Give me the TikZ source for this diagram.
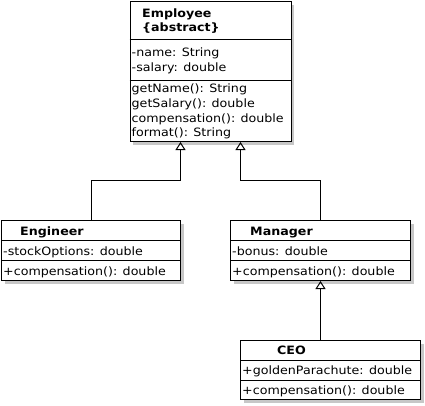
\documentclass[tikz,border=0pt]{standalone}
\usepackage{fontspec}
\setmainfont{DejaVu Sans}[FakeStretch=1.1]
\usetikzlibrary{arrows.meta, shadows, positioning}

\begin{document}
\begin{tikzpicture}[x=1pt, y=-1pt,
    clase/.style={draw, fill=white, anchor=north west, inner sep=0pt, line width=1pt,
      drop shadow={shadow xshift=3pt, shadow yshift=-3pt, fill=black!22, opacity=1}},
    texto/.style={anchor=base west, inner sep=0pt, font=\fontsize{11.5}{14}\selectfont},
    titulo/.style={texto, font=\fontsize{11.5}{14}\selectfont\bfseries},
    herencia/.style={-{Triangle[open, length=8pt, width=10pt]}, line width=1pt}]
  \useasboundingbox (0,0) rectangle (425,405);

  % Clases
  \node[clase, minimum width=161pt, minimum height=140pt] (employee) at (129.5,1) {};
  \node[clase, minimum width=179pt, minimum height=60pt] (engineer) at (1,220) {};
  \node[clase, minimum width=180pt, minimum height=60pt] (manager) at (230,220) {};
  \node[clase, minimum width=180pt, minimum height=59pt] (ceo) at (240,340) {};

  % Separadores
  \draw[line width=1pt] (129.5,39) -- (290.5,39);
  \draw[line width=1pt] (129.5,80) -- (290.5,80);
  \draw[line width=1pt] (1,240) -- (180,240);
  \draw[line width=1pt] (1,260) -- (180,260);
  \draw[line width=1pt] (230,240) -- (410,240);
  \draw[line width=1pt] (230,260) -- (410,260);
  \draw[line width=1pt] (240,360) -- (420,360);
  \draw[line width=1pt] (240,380) -- (420,380);

  % Textos
  \node[titulo] (employeeTit) at (142,17.3) {Employee};
  \node[titulo] (employeeAbs) at (142,31.7) {\{abstract\}};
  \node[texto] (employeeAt1) at (131.5,56.7) {-name: String};
  \node[texto] (employeeAt2) at (131.5,71.3) {-salary: double};
  \node[texto] (employeeM1) at (131.5,92.7) {getName(): String};
  \node[texto] (employeeM2) at (131.5,107.3) {getSalary(): double};
  \node[texto] (employeeM3) at (131.5,122) {compensation(): double};
  \node[texto] (employeeM4) at (131.5,136.7) {format(): String};

  \node[titulo] (engineerTit) at (20,235) {Engineer};
  \node[texto] (engineerAt) at (3,255) {-stockOptions: double};
  \node[texto] (engineerM) at (3,275) {+compensation(): double};

  \node[titulo] (managerTit) at (250,235) {Manager};
  \node[texto] (managerAt) at (232,255) {-bonus: double};
  \node[texto] (managerM) at (232,275) {+compensation(): double};

  \node[titulo] (ceoTit) at (277,354) {CEO};
  \node[texto] (ceoAt) at (242,374) {+goldenParachute: double};
  \node[texto] (ceoM) at (242,394) {+compensation(): double};

  % Herencia
  \draw[herencia] (engineer.north) -- ++(0,-40) -| ([xshift=-30pt]employee.south);
  \draw[herencia] (manager.north) -- ++(0,-40) -| ([xshift=30pt]employee.south);
  \draw[herencia] (ceo.north -| manager.south) -- (manager.south);
\end{tikzpicture}
\end{document}
